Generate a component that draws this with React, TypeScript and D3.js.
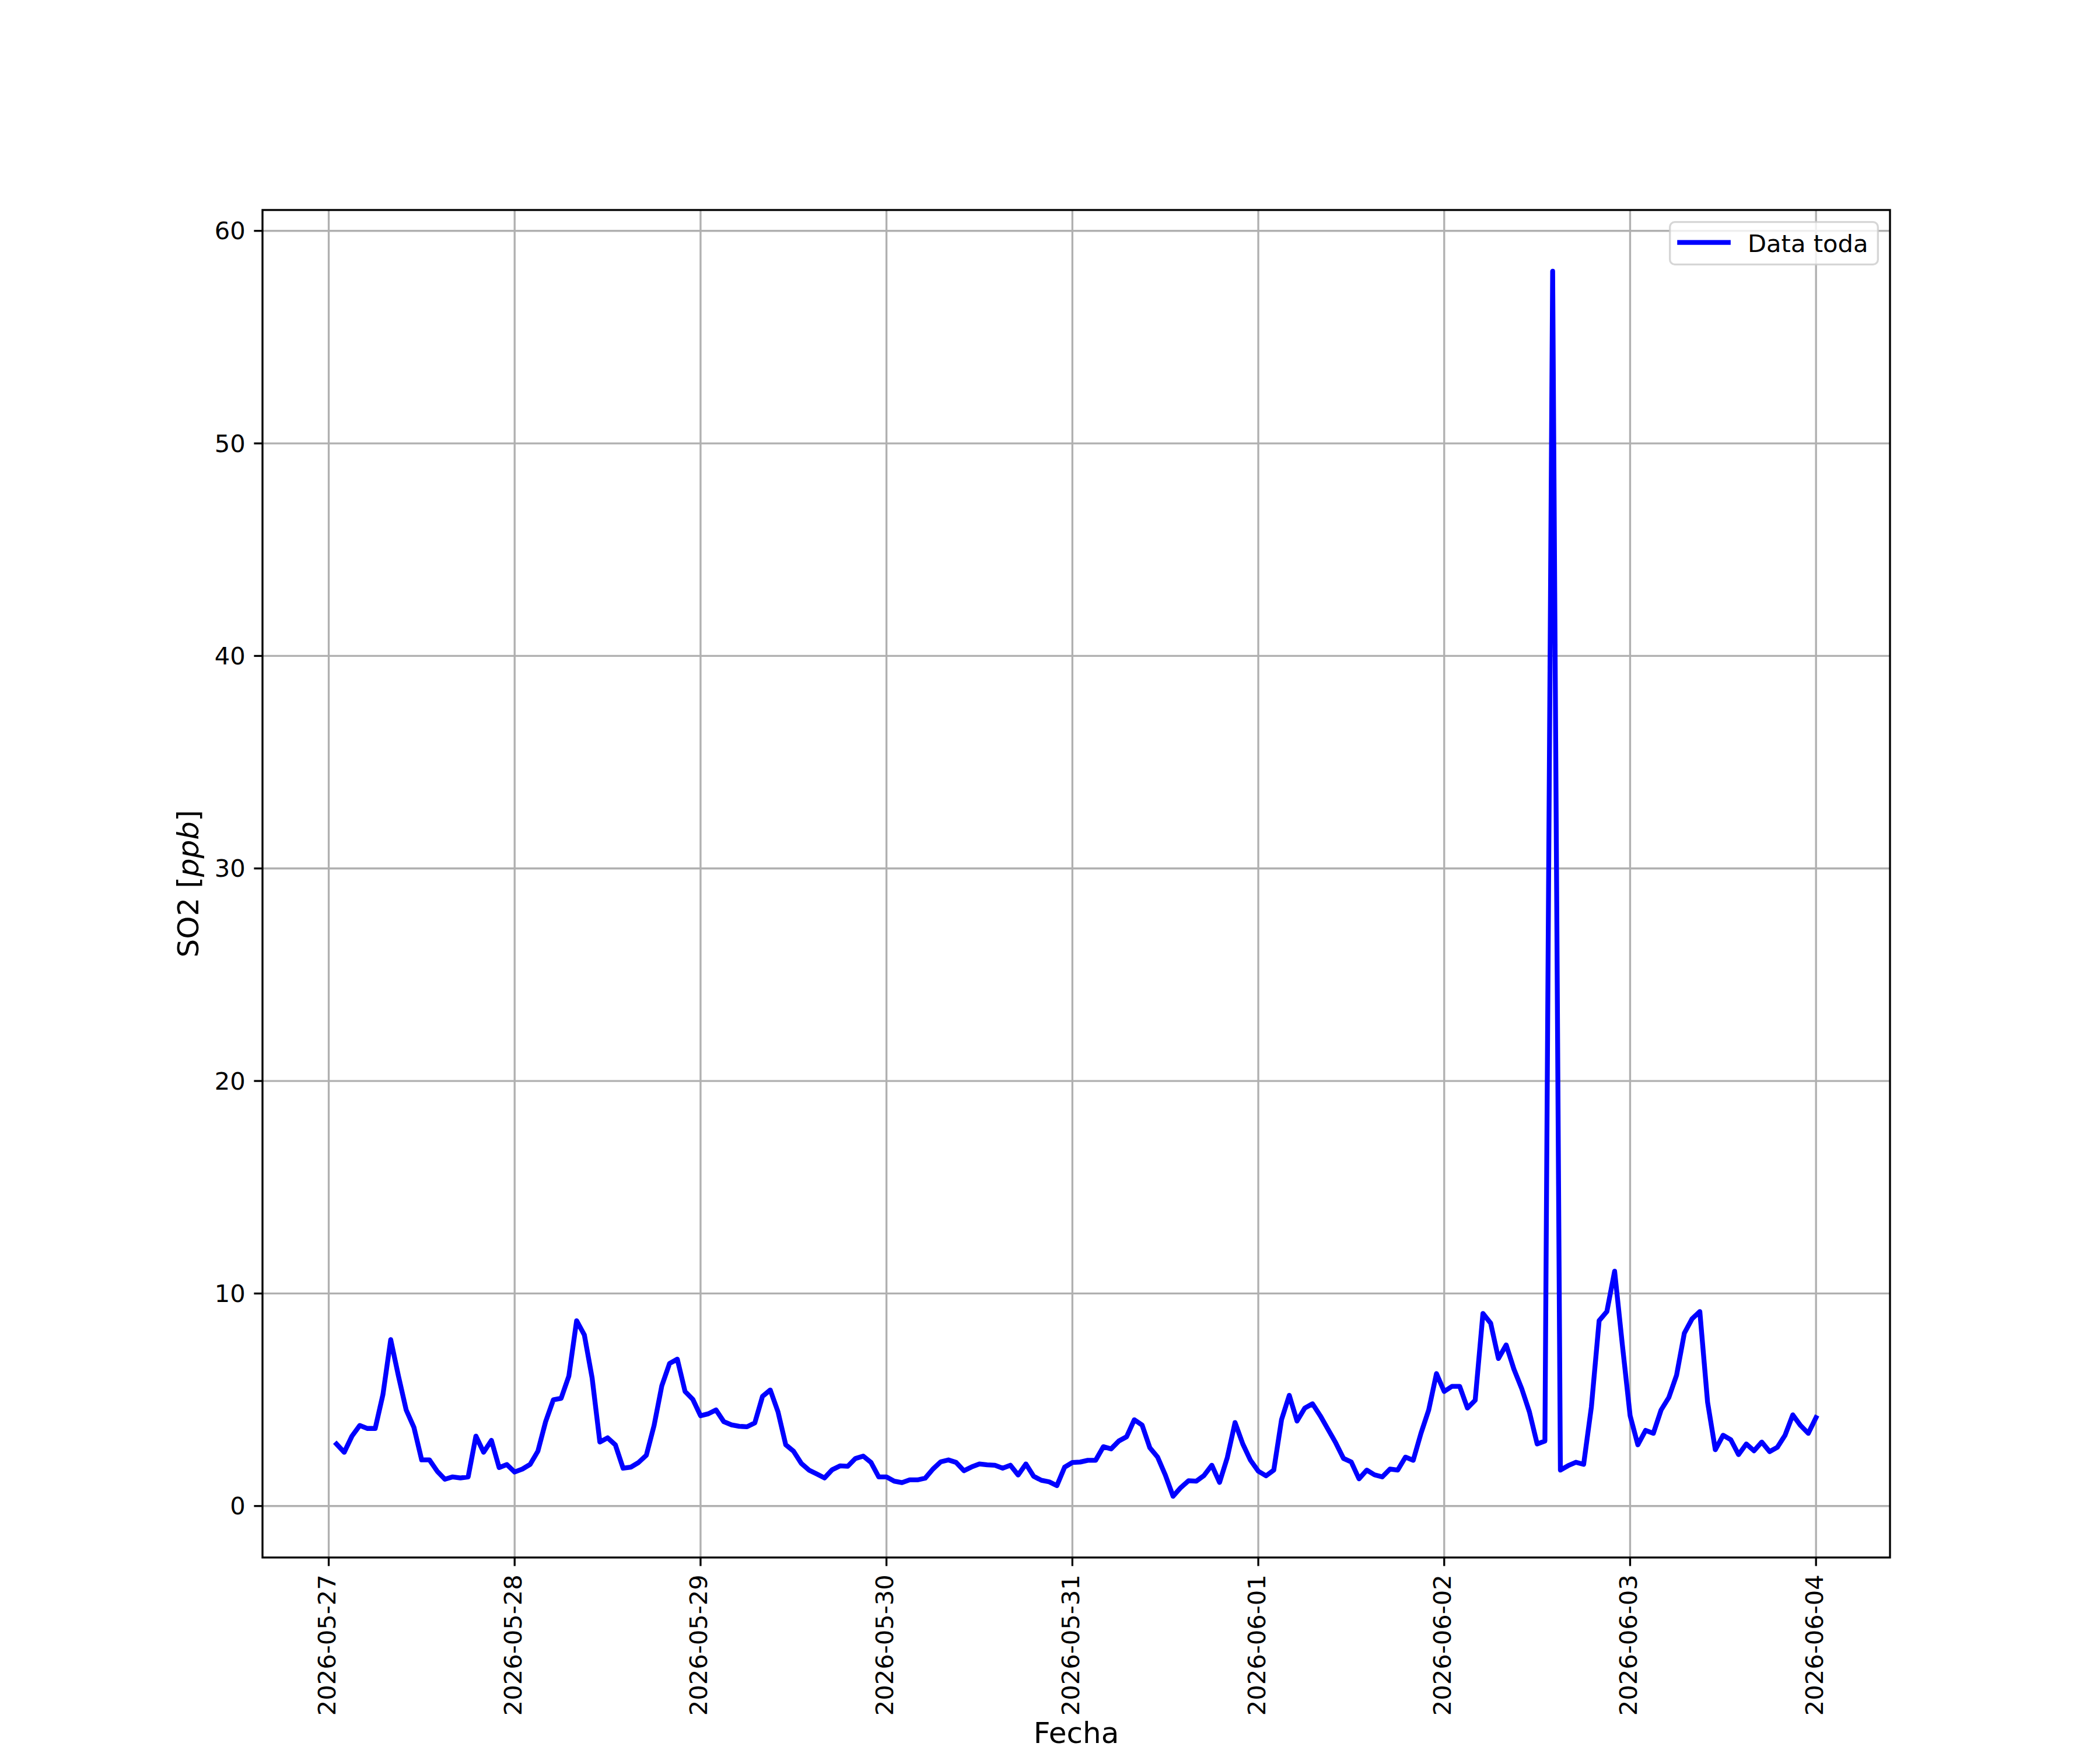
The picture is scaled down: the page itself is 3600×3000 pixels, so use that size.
import React from "react";
import * as d3 from "d3";

// Hourly SO2 readings [ppb], starting 2026-05-27 01:00 (one array per day)
const day1 = [2.92, 2.53, 3.29, 3.79, 3.65, 3.65, 5.25, 7.83, 6.12, 4.52, 3.70, 2.17, 2.17, 1.64, 1.26, 1.37, 1.32, 1.37, 3.29, 2.53, 3.09, 1.81, 1.95, 1.60];
const day2 = [1.74, 1.96, 2.58, 3.97, 5.00, 5.07, 6.12, 8.72, 8.05, 6.03, 3.01, 3.21, 2.88, 1.78, 1.83, 2.05, 2.39, 3.79, 5.66, 6.71, 6.91, 5.39, 5.02, 4.25];
const day3 = [4.34, 4.52, 3.97, 3.82, 3.75, 3.73, 3.91, 5.16, 5.46, 4.43, 2.88, 2.58, 2.01, 1.69, 1.51, 1.32, 1.71, 1.89, 1.87, 2.24, 2.35, 2.05, 1.37, 1.37];
const day4 = [1.17, 1.10, 1.23, 1.23, 1.31, 1.74, 2.08, 2.17, 2.05, 1.66, 1.84, 1.98, 1.94, 1.92, 1.78, 1.92, 1.46, 1.98, 1.40, 1.21, 1.14, 0.96, 1.83, 2.05];
const day5 = [2.07, 2.15, 2.15, 2.79, 2.69, 3.06, 3.26, 4.06, 3.81, 2.74, 2.30, 1.46, 0.46, 0.87, 1.19, 1.17, 1.44, 1.92, 1.11, 2.28, 3.93, 2.92, 2.15, 1.64];
const day6 = [1.42, 1.69, 4.06, 5.21, 4.00, 4.61, 4.81, 4.25, 3.61, 2.97, 2.24, 2.07, 1.28, 1.69, 1.47, 1.37, 1.74, 1.69, 2.30, 2.15, 3.42, 4.52, 6.23, 5.39];
const day7 = [5.63, 5.63, 4.61, 4.98, 9.06, 8.60, 6.94, 7.58, 6.44, 5.53, 4.43, 2.92, 3.06, 58.1, 1.69, 1.90, 2.06, 1.96, 4.66, 8.72, 9.15, 11.05, 7.58, 4.25];
const day8 = [2.88, 3.56, 3.42, 4.52, 5.11, 6.16, 8.13, 8.81, 9.15, 4.89, 2.65, 3.33, 3.12, 2.42, 2.92, 2.60, 3.01, 2.56, 2.76, 3.33, 4.29, 3.79, 3.42, 4.16];

const values = [...day1, ...day2, ...day3, ...day4, ...day5, ...day6, ...day7, ...day8];
const startUtc = Date.UTC(2026, 4, 27, 1);
const dates = values.map((_, i) => new Date(startUtc + i * 3600 * 1000));

const xTickDates = ["2026-05-27", "2026-05-28", "2026-05-29", "2026-05-30", "2026-05-31", "2026-06-01", "2026-06-02", "2026-06-03", "2026-06-04"];
const yTicks = [0, 10, 20, 30, 40, 50, 60];
const seriesLabel = "Data toda";
const xLabel = "Fecha";

const W = 3600;
const H = 3000;
const L = 450, R = 3240, T = 360, B = 2670;
const FS = 41.67;
const LW = 3.33;

export default function App() {
  const t0 = dates[0].getTime();
  const t1 = dates[dates.length - 1].getTime();
  const xm = (t1 - t0) * 0.05;
  const x = d3.scaleUtc().domain([new Date(t0 - xm), new Date(t1 + xm)]).range([L, R]);
  const [vmin, vmax] = d3.extent(values) as [number, number];
  const ym = (vmax - vmin) * 0.05;
  const y = d3.scaleLinear().domain([vmin - ym, vmax + ym]).range([B, T]);

  const line = d3
    .line<number>()
    .x((_, i) => x(dates[i]))
    .y((d) => y(d));

  const parse = d3.utcParse("%Y-%m-%d");
  const fmt = d3.utcFormat("%Y-%m-%d");
  const xt = xTickDates.map((s) => parse(s) as Date);

  const legX = 2862.7, legY = 380.7, legW = 356.6, legH = 72.6;

  return (
    <svg
      width={W}
      height={H}
      viewBox={`0 0 ${W} ${H}`}
      style={{ position: "absolute", left: 0, top: 0, background: "#fff" }}
      fontFamily="DejaVu Sans"
    >
      <rect x={0} y={0} width={W} height={H} fill="#fff" />
      {/* grid */}
      <g stroke="#b0b0b0" strokeWidth={LW}>
        {xt.map((d, i) => (
          <line key={"gx" + i} x1={x(d)} x2={x(d)} y1={T} y2={B} />
        ))}
        {yTicks.map((v, i) => (
          <line key={"gy" + i} x1={L} x2={R} y1={y(v)} y2={y(v)} />
        ))}
      </g>
      {/* data line */}
      <path
        d={line(values) || ""}
        fill="none"
        stroke="#0000ff"
        strokeWidth={8.33}
        strokeLinejoin="round"
        strokeLinecap="square"
      />
      {/* spines */}
      <rect x={L} y={T} width={R - L} height={B - T} fill="none" stroke="#000" strokeWidth={LW} />
      {/* x ticks */}
      <g>
        {xt.map((d, i) => (
          <g key={"xt" + i}>
            <line x1={x(d)} x2={x(d)} y1={B} y2={B + 14.6} stroke="#000" strokeWidth={LW} />
            <text
              transform={`translate(${x(d) - 3},${B + 29.2}) rotate(-90)`}
              textAnchor="end"
              dominantBaseline="central"
              fontSize={FS}
              fill="#000"
            >
              {fmt(d)}
            </text>
          </g>
        ))}
      </g>
      {/* y ticks */}
      <g>
        {yTicks.map((v, i) => (
          <g key={"yt" + i}>
            <line x1={L - 14.6} x2={L} y1={y(v)} y2={y(v)} stroke="#000" strokeWidth={LW} />
            <text
              x={L - 29.2}
              y={y(v)}
              textAnchor="end"
              dominantBaseline="central"
              fontSize={FS}
              fill="#000"
            >
              {v}
            </text>
          </g>
        ))}
      </g>
      {/* axis labels */}
      <text x={(L + R) / 2} y={2988} textAnchor="middle" fontSize={50} fill="#000">
        {xLabel}
      </text>
      <text transform={`translate(340,${(T + B) / 2}) rotate(-90)`} textAnchor="middle" fontSize={50} fill="#000">
        SO2 [<tspan fontStyle="italic">ppb</tspan>]
      </text>
      {/* legend */}
      <rect
        x={legX}
        y={legY}
        width={legW}
        height={legH}
        rx={8.3}
        ry={8.3}
        fill="rgba(255,255,255,0.8)"
        stroke="rgba(204,204,204,0.8)"
        strokeWidth={LW}
      />
      <line x1={2879.4} x2={2962.7} y1={415.7} y2={415.7} stroke="#0000ff" strokeWidth={8.33} strokeLinecap="square" />
      <text x={2996} y={431.5} fontSize={FS} fill="#000">
        {seriesLabel}
      </text>
    </svg>
  );
}
